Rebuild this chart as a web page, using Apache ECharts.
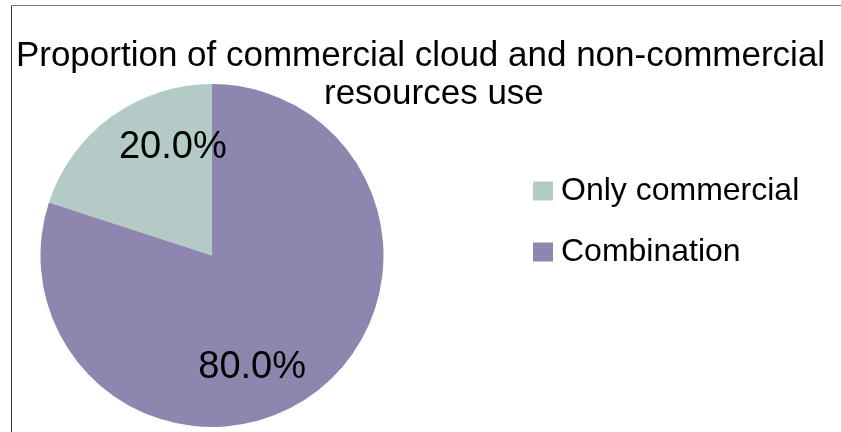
<!DOCTYPE html>
<html>
<head>
<meta charset="utf-8">
<script src="https://cdn.jsdelivr.net/npm/echarts@6/dist/echarts.min.js"></script>
<style>
  html, body { margin: 0; padding: 0; background: #fff; }
  #chart { width: 841px; height: 432px; }
</style>
</head>
<body>
<div id="chart"></div>
<script>
// Share of respondents by type of resources used
const categories = ['Only commercial', 'Combination'];
const shares = [20.0, 80.0];
const titleLines = ['Proportion of commercial cloud and non-commercial', 'resources use'];

const colors = ['#b3cac7', '#8e86ae'];
const labelOffsets = [[13, -36], [-12, 40]];
const FONT = '"Liberation Sans", Arial, sans-serif';

const chart = echarts.init(document.getElementById('chart'), null, { renderer: 'canvas' });

chart.setOption({
  animation: false,
  backgroundColor: '#ffffff',
  title: [
    {
      text: titleLines[0],
      left: 'center',
      top: 39,
      padding: 0,
      textStyle: { fontFamily: FONT, fontSize: 35, fontWeight: 'normal', color: '#000' }
    },
    {
      text: titleLines[1],
      left: 324,
      top: 77,
      padding: 0,
      textStyle: { fontFamily: FONT, fontSize: 35, fontWeight: 'normal', color: '#000' }
    }
  ],
  legend: {
    orient: 'vertical',
    left: 533,
    top: 175,
    padding: 0,
    itemWidth: 20,
    itemHeight: 19,
    itemGap: 29,
    icon: 'rect',
    textStyle: { fontFamily: FONT, fontSize: 32, color: '#000', padding: [0, 0, 0, 3] },
    data: categories
  },
  graphic: [
    { type: 'line', shape: { x1: 11.5, y1: 5.5, x2: 841, y2: 5.5 }, style: { stroke: '#777', lineWidth: 1 } },
    { type: 'line', shape: { x1: 11.5, y1: 5.5, x2: 11.5, y2: 432 }, style: { stroke: '#333', lineWidth: 1 } }
  ],
  series: [{
    type: 'pie',
    center: [212, 255.5],
    radius: [0, 171.5],
    startAngle: 90,
    clockwise: false,
    silent: true,
    label: {
      show: true,
      position: 'inside',
      fontFamily: FONT,
      fontSize: 38,
      color: '#000',
      formatter: p => p.value.toFixed(1) + '%'
    },
    labelLine: { show: false },
    itemStyle: { borderWidth: 0 },
    data: categories.map((name, i) => ({
      name,
      value: shares[i],
      itemStyle: { color: colors[i] },
      label: { offset: labelOffsets[i] }
    }))
  }]
});
</script>
</body>
</html>
